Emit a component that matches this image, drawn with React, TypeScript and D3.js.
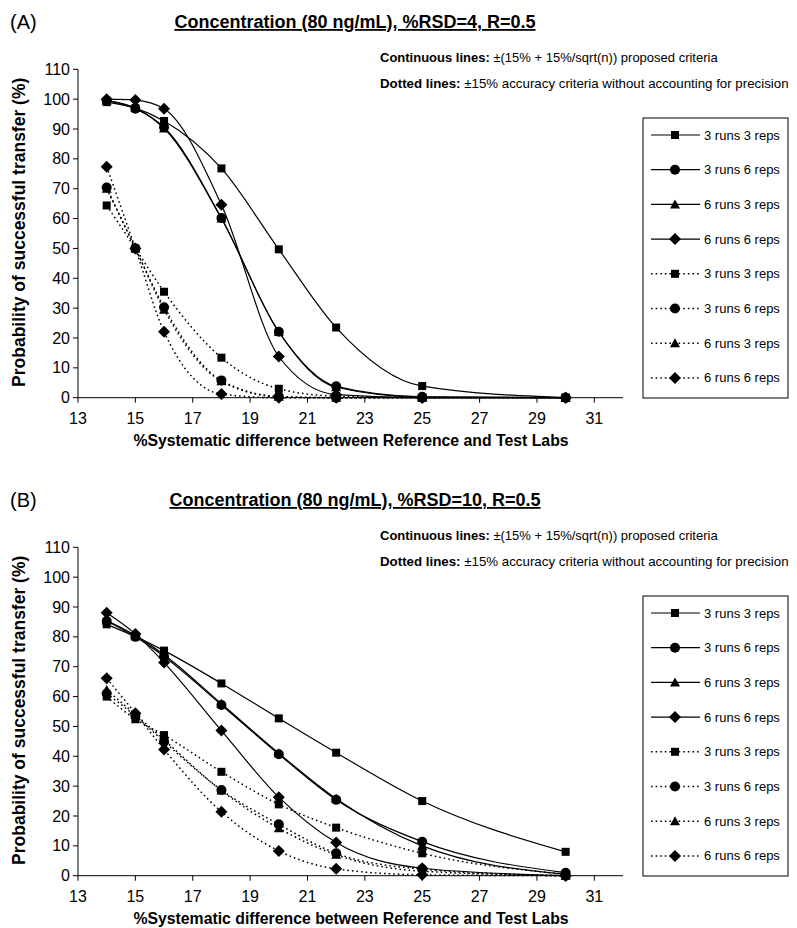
import React from 'react';
import * as d3 from 'd3';

// x positions (% systematic difference) shared by every series
const xValues = [14, 15, 16, 18, 20, 22, 25, 30];
const xTicks = [13, 15, 17, 19, 21, 23, 25, 27, 29, 31];
const yTicks = [0, 10, 20, 30, 40, 50, 60, 70, 80, 90, 100, 110];
const seriesNames = ['3 runs 3 reps', '3 runs 6 reps', '6 runs 3 reps', '6 runs 6 reps'];
const markerShapes = ['square', 'circle', 'triangle', 'diamond'];

// Panel A: %RSD=4
const aSolid3r3 = [99, 97, 92.7, 76.8, 49.7, 23.5, 3.9, 0];
const aSolid3r6 = [99.5, 96.8, 90.6, 60.2, 22.1, 3.8, 0.3, 0];
const aSolid6r3 = [99.5, 97, 90.2, 60, 22, 3.5, 0.2, 0];
const aSolid6r6 = [100, 99.7, 96.8, 64.6, 13.8, 1, 0, 0];
const aDot3r3 = [64.4, 50, 35.5, 13.4, 3, 0.5, 0, 0];
const aDot3r6 = [70.4, 50, 30.3, 5.8, 0.4, 0, 0, 0];
const aDot6r3 = [70, 50, 29.5, 5.5, 0.3, 0, 0, 0];
const aDot6r6 = [77.4, 50, 22.1, 1.2, 0, 0, 0, 0];

// Panel B: %RSD=10
const bSolid3r3 = [84.2, 80.1, 75.4, 64.4, 52.7, 41.2, 25, 8];
const bSolid3r6 = [85.3, 80, 73.4, 57.2, 40.7, 25.4, 11.4, 1];
const bSolid6r3 = [85.5, 80.5, 74, 57.6, 41, 25.8, 10, 0.5];
const bSolid6r6 = [88.1, 81, 71.4, 48.6, 26.3, 11.1, 2.5, 0];
const bDot3r3 = [60, 52.4, 47.1, 34.8, 23.9, 16.1, 7.5, 0.5];
const bDot3r6 = [61, 53.5, 44.9, 28.7, 17.2, 7.5, 2.2, 0];
const bDot6r3 = [62.2, 54, 45.5, 28.5, 15.9, 7, 1.5, 0];
const bDot6r6 = [66.1, 54.4, 42.3, 21.4, 8.3, 2.3, 0.3, 0];

const FONT = "'Liberation Sans', Arial, sans-serif";
const DOTS = '1.6,3';

function Marker({ shape, x, y }: { shape: string; x: number; y: number }) {
    if (shape === 'square') return <rect x={x - 4} y={y - 4} width={8} height={8} fill="#000" />;
    if (shape === 'circle') return <circle cx={x} cy={y} r={5} fill="#000" />;
    if (shape === 'triangle') return <path d={`M${x},${y - 5}L${x + 5},${y + 4}L${x - 5},${y + 4}Z`} fill="#000" />;
    return <path d={`M${x},${y - 6}L${x + 6},${y}L${x},${y + 6}L${x - 6},${y}Z`} fill="#000" />;
}

function Panel({ top, label, title, solid, dotted }: any) {
    const left = 78;
    const right = 623;
    const plotTop = top + 69.3;
    const plotBottom = top + 397.7;

    const x = d3.scaleLinear().domain([13, 32]).range([left, right]);
    const y = d3.scaleLinear().domain([0, 110]).range([plotBottom, plotTop]);

    const line = d3.line<number>()
        .x((d, i) => x(xValues[i]))
        .y(d => y(d))
        .curve(d3.curveMonotoneX);

    const legendTop = top + 118;
    const rowY = (i: number) => legendTop + 17 + i * 34.7;
    const legendRows = [
        ...seriesNames.map((n, i) => ({ name: n, shape: markerShapes[i], dashed: false })),
        ...seriesNames.map((n, i) => ({ name: n, shape: markerShapes[i], dashed: true })),
    ];

    return (
        <g fontFamily={FONT}>
            <text x={10} y={top + 29} fontSize={20}>{label}</text>
            <text x={355} y={top + 28} fontSize={18} fontWeight="bold" textAnchor="middle" textDecoration="underline">{title}</text>
            <text x={380} y={top + 62} fontSize={13}>
                <tspan fontWeight="bold">Continuous lines:</tspan> ±(15% + 15%/sqrt(n)) proposed criteria
            </text>
            <text x={380} y={top + 88} fontSize={13.3}>
                <tspan fontWeight="bold">Dotted lines:</tspan> ±15% accuracy criteria without accounting for precision
            </text>

            {/* axes */}
            <line x1={left} x2={right} y1={plotBottom} y2={plotBottom} stroke="#000" />
            <line x1={left} x2={left} y1={plotTop} y2={plotBottom} stroke="#000" />
            {yTicks.map(t => (
                <g key={`y${t}`}>
                    <line x1={left - 5} x2={left} y1={y(t)} y2={y(t)} stroke="#000" />
                    <text x={left - 8} y={y(t)} dy="0.35em" fontSize={16} textAnchor="end">{t}</text>
                </g>
            ))}
            {xTicks.map(t => (
                <g key={`x${t}`}>
                    <line x1={x(t)} x2={x(t)} y1={plotBottom} y2={plotBottom + 5} stroke="#000" />
                    <text x={x(t)} y={plotBottom + 26} fontSize={16} textAnchor="middle">{t}</text>
                </g>
            ))}
            <text x={351} y={plotBottom + 48} fontSize={15.8} fontWeight="bold" textAnchor="middle">
                %Systematic difference between Reference and Test Labs
            </text>
            <text transform={`translate(25,${plotTop + 163}) rotate(-90)`} fontSize={17.5} fontWeight="bold" textAnchor="middle">
                Probability of successful transfer (%)
            </text>

            {/* series */}
            {dotted.map((s: number[], k: number) => (
                <g key={`d${k}`}>
                    <path d={line(s) || ''} fill="none" stroke="#000" strokeWidth={1.5} strokeDasharray={DOTS} />
                    {s.map((v, i) => <Marker key={i} shape={markerShapes[k]} x={x(xValues[i])} y={y(v)} />)}
                </g>
            ))}
            {solid.map((s: number[], k: number) => (
                <g key={`s${k}`}>
                    <path d={line(s) || ''} fill="none" stroke="#000" strokeWidth={1.2} />
                    {s.map((v, i) => <Marker key={i} shape={markerShapes[k]} x={x(xValues[i])} y={y(v)} />)}
                </g>
            ))}

            {/* legend */}
            <rect x={643} y={legendTop} width={145} height={280} fill="#fff" stroke="#000" />
            {legendRows.map((r, i) => (
                <g key={`l${i}`}>
                    <line x1={651} x2={700} y1={rowY(i)} y2={rowY(i)} stroke="#000"
                        strokeWidth={r.dashed ? 1.5 : 1.2} strokeDasharray={r.dashed ? DOTS : undefined} />
                    <Marker shape={r.shape} x={675} y={rowY(i)} />
                    <text x={704} y={rowY(i)} dy="0.35em" fontSize={13}>{r.name}</text>
                </g>
            ))}
        </g>
    );
}

export default function App() {
    return (
        <svg width={797} height={928} style={{ position: 'absolute', left: 0, top: 0, background: '#fff' }}>
            <rect width={797} height={928} fill="#fff" />
            <Panel top={0} label="(A)" title="Concentration (80 ng/mL), %RSD=4, R=0.5"
                solid={[aSolid3r3, aSolid3r6, aSolid6r3, aSolid6r6]}
                dotted={[aDot3r3, aDot3r6, aDot6r3, aDot6r6]} />
            <Panel top={478} label="(B)" title="Concentration (80 ng/mL), %RSD=10, R=0.5"
                solid={[bSolid3r3, bSolid3r6, bSolid6r3, bSolid6r6]}
                dotted={[bDot3r3, bDot3r6, bDot6r3, bDot6r6]} />
        </svg>
    );
}
